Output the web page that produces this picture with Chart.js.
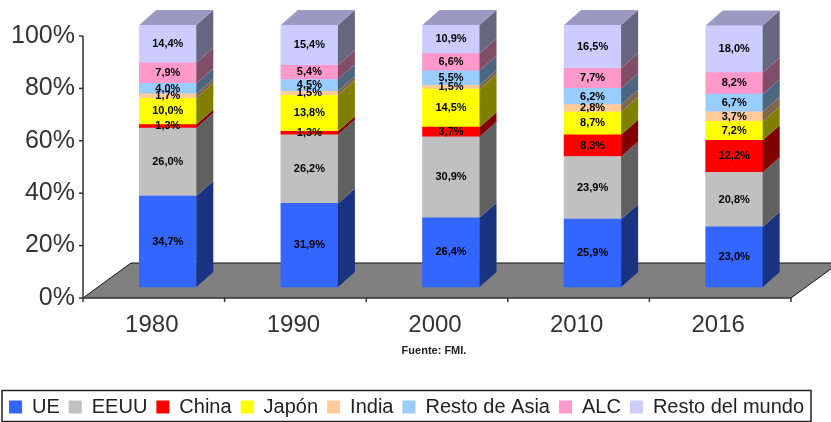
<!DOCTYPE html>
<html><head><meta charset="utf-8">
<style>html,body{margin:0;padding:0;background:#fff}#w{position:relative;width:831px;height:422px}</style>
<script src="https://cdn.jsdelivr.net/npm/chart.js@4"></script>
</head><body><div id="w"><canvas id="c" width="831" height="422"></canvas></div>
<script>
const categories = ['1980','1990','2000','2010','2016'];
const seriesNames = ['UE','EEUU','China','Japón','India','Resto de Asia','ALC','Resto del mundo'];
const ue     = [34.7,31.9,26.4,25.9,23.0];
const eeuu   = [26.0,26.2,30.9,23.9,20.8];
const china  = [1.3,1.3,3.7,8.3,12.2];
const japon  = [10.0,13.8,14.5,8.7,7.2];
const india  = [1.7,1.5,1.5,2.8,3.7];
const asia   = [4.0,4.5,5.5,6.2,6.7];
const alc    = [7.9,5.4,6.6,7.7,8.2];
const resto  = [14.4,15.4,10.9,16.5,18.0];
const seriesValues = [ue,eeuu,china,japon,india,asia,alc,resto];
const colors = ['#3366FF','#C0C0C0','#FF0000','#FFFF00','#FFCC99','#99CCFF','#FF99CC','#CCCCFF'];
const sides  = ['#1A3380','#606060','#800000','#808000','#80664D','#4D6680','#804D66','#666680'];
const topFace = '#9999C2';
const DX = 17, DY = 15, AXIS_SHIFT = 14, FLOOR_DX = 48, FLOOR_DY = 35, LIFT = 4.2;

const scene = {
  id:'scene',
  beforeDatasetsDraw(ch){
    const c=ch.ctx,a=ch.chartArea,l=a.left-AXIS_SHIFT,r=a.right-AXIS_SHIFT,b=a.bottom;
    const y=ch.scales.y,x=ch.scales.x;
    c.save();
    c.fillStyle='#808080';
    c.beginPath();c.moveTo(l,b);c.lineTo(l+FLOOR_DX,b-FLOOR_DY);c.lineTo(r+FLOOR_DX,b-FLOOR_DY);c.lineTo(r,b);c.closePath();c.fill();
    c.strokeStyle='#111';c.lineWidth=1;
    c.beginPath();c.moveTo(l,b);c.lineTo(l+FLOOR_DX,b-FLOOR_DY);c.lineTo(r+FLOOR_DX,b-FLOOR_DY);c.lineTo(r,b);c.stroke();
    c.strokeStyle='#333';c.lineWidth=1.5;
    c.beginPath();c.moveTo(l,y.getPixelForValue(100));c.lineTo(l,b);c.lineTo(r,b);c.stroke();
    [0,20,40,60,80,100].forEach(v=>{const p=y.getPixelForValue(v);c.beginPath();c.moveTo(l-4,p);c.lineTo(l,p);c.stroke();});
    const w=x.getPixelForValue(1)-x.getPixelForValue(0);
    for(let i=0;i<=categories.length;i++){const p=x.getPixelForValue(0)-w/2+i*w-AXIS_SHIFT;c.beginPath();c.moveTo(p,b);c.lineTo(p,b+4);c.stroke();}
    c.restore();
  },
  afterDatasetsDraw(ch){
    const c=ch.ctx;
    c.save();
    ch.data.datasets.forEach((d,i)=>{
      ch.getDatasetMeta(i).data.forEach(el=>{
        const R=el.x+el.width/2,T=el.y,B=el.base;
        c.fillStyle=sides[i];
        c.beginPath();c.moveTo(R,T);c.lineTo(R+DX,T-DY);c.lineTo(R+DX,B-DY);c.lineTo(R,B);c.closePath();c.fill();
        if(i===ch.data.datasets.length-1){
          const L=el.x-el.width/2;
          c.fillStyle=topFace;
          c.beginPath();c.moveTo(L,T);c.lineTo(L+DX,T-DY);c.lineTo(R+DX,T-DY);c.lineTo(R,T);c.closePath();c.fill();
        }
      });
    });
    c.font='bold 11px "Liberation Sans"';c.fillStyle='#000';c.textAlign='center';c.textBaseline='middle';
    ch.data.datasets.forEach((d,i)=>{
      ch.getDatasetMeta(i).data.forEach((el,j)=>{
        c.fillText(d.data[j].toFixed(1).replace('.',',')+'%',el.x,(el.y+el.base)/2);
      });
    });
    c.restore();
  },
  afterDraw(ch){
    const c=ch.ctx;
    c.save();
    c.font='bold 11px "Liberation Sans"';c.fillStyle='#222';c.textAlign='center';c.textBaseline='middle';
    c.fillText('Fuente: FMI.',434,351);
    c.strokeStyle='#222';c.lineWidth=1.5;c.strokeRect(2,390.5,809,31);
    c.restore();
  }
};

new Chart(document.getElementById('c'),{
  type:'bar',
  data:{labels:categories,datasets:seriesNames.map((n,i)=>({
    label:n,data:seriesValues[i],backgroundColor:colors[i],borderWidth:0,
    barThickness:57,yAxisID:'yB',xAxisID:'x'}))},
  options:{
    responsive:false,animation:false,
    layout:{padding:{top:25,right:0,left:0,bottom:-5}},
    plugins:{
      title:{display:false},tooltip:{enabled:false},
      legend:{display:true,position:'bottom',align:'start',
        labels:{boxWidth:13,boxHeight:13,padding:9,color:'#222',
          font:{family:'"Liberation Sans"',size:20}}}
    },
    scales:{
      x:{stacked:true,grid:{display:false},border:{display:false},
        afterFit(s){s.height=90;},
        ticks:{color:'#333',labelOffset:-16,padding:5,maxRotation:0,font:{family:'"Liberation Sans"',size:24}}},
      y:{position:'left',min:0,max:100+LIFT,grid:{display:false},border:{display:false},
        afterFit(s){s.width=97;s.paddingTop=0;s.paddingBottom=0;},
        ticks:{stepSize:20,includeBounds:false,padding:14,color:'#333',font:{family:'"Liberation Sans"',size:25},
          callback:v=>v+'%'}},
      yB:{display:false,stacked:true,min:-LIFT,max:100},
      yR:{position:'right',min:0,max:1,grid:{display:false},border:{display:false},
        ticks:{display:false},afterFit(s){s.width=26;s.paddingTop=0;s.paddingBottom=0;}}
    }
  },
  plugins:[scene]
});
</script></body></html>
